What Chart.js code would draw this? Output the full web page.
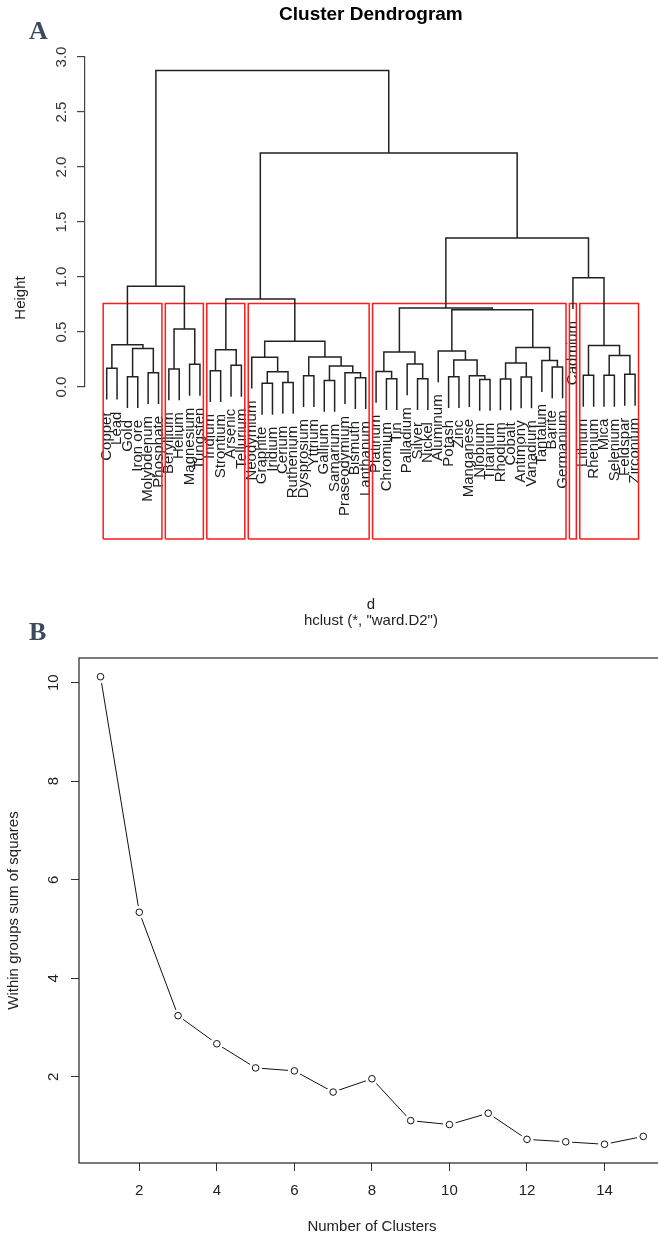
<!DOCTYPE html>
<html>
<head>
<meta charset="utf-8">
<title>Cluster Dendrogram</title>
<script src="https://cdn.jsdelivr.net/npm/chart.js@4.4.1/dist/chart.umd.min.js"></script>
<style>
  html, body { margin: 0; padding: 0; background: #fff; width: 658px; height: 1237px; overflow: hidden; }
  canvas { position: absolute; left: 0; }
  #dendro { top: 0; }
  #elbow { top: 590px; }
  .tag { position: absolute; left: 29px; font: bold 26px/1 "Liberation Serif", "Times New Roman", serif; color: #3d4a5e; }
</style>
</head>
<body>
<canvas id="dendro" width="658" height="640"></canvas>
<canvas id="elbow" width="672" height="647"></canvas>
<div class="tag" style="top:18px">A</div>
<div class="tag" style="top:619px">B</div>
<script>
// leaves in dendrogram order
var leaves = ['Copper', 'Lead', 'Gold', 'Iron ore', 'Molybdenum', 'Phosphate',
    'Beryllium', 'Helium', 'Magnesium', 'Tungsten', 'Indium', 'Strontium', 'Arsenic', 'Tellurium',
    'Neodymium', 'Graphite', 'Iridium', 'Cerium', 'Ruthenium', 'Dysprosium', 'Yttrium', 'Gallium',
    'Samarium', 'Praseodymium', 'Bismuth', 'Lanthanum', 'Platinum', 'Chromium', 'Tin', 'Palladium',
    'Silver', 'Nickel', 'Aluminum', 'Potash', 'Zinc', 'Manganese', 'Niobium', 'Titanium', 'Rhodium',
    'Cobalt', 'Antimony', 'Vanadium', 'Tantalum', 'Barite', 'Germanium', 'Cadmium', 'Lithium',
    'Rhenium', 'Mica', 'Selenium', 'Feldspar', 'Zirconium'];

// hclust merge table: negative = leaf position, positive = earlier merge (1-based)
var mergeLeft = [-1, -3, -5, 2, 1, -7, -9, 6, 5, -11, -13, 10, -16, -18, 13, -15, -20, -22, -25, -24,
    18, 17, 16, 12, -28, -27, -31, -30, 26, -34, -37, -36, 30, -33, -39, -41, 35, -44, -43, 37, 34, 29,
    -47, -49, -51, 44, 43, -46, 42, 24, 9];
var mergeRight = [-2, -4, -6, 3, 4, -8, -10, 7, 8, -12, -14, 11, -17, -19, 14, 15, -21, -23, -26, 19,
    20, 21, 22, 23, -29, 25, -32, 27, 28, -35, -38, 31, 32, 33, -40, -42, 36, -45, 38, 39, 40, 41,
    -48, -50, -52, 45, 46, 47, 48, 49, 50];
var mergeHeight = [0.17, 0.094, 0.13, 0.35, 0.385, 0.164, 0.206, 0.527, 0.915, 0.148, 0.197, 0.339,
    0.033, 0.042, 0.139, 0.27, 0.103, 0.06, 0.085, 0.13, 0.19, 0.273, 0.415, 0.80, 0.075, 0.142, 0.075,
    0.209, 0.318, 0.094, 0.069, 0.103, 0.245, 0.327, 0.073, 0.091, 0.218, 0.182, 0.24, 0.36, 0.702,
    0.718, 0.106, 0.106, 0.115, 0.287, 0.378, 0.994, 1.355, 2.127, 2.878];
var heightTicks = [0, 3];
var kGroups = 7;
var rectBottom = -1.382;   // bottom of the plot region (par("usr")[3])

// elbow plot
var clusterCounts = [1, 2, 3, 4, 5, 6, 7, 8, 9, 10, 11, 12, 13, 14, 15];
var withinSS = [10.12, 5.34, 3.24, 2.67, 2.18, 2.12, 1.69, 1.96, 1.11, 1.03, 1.26, 0.73, 0.68, 0.63, 0.79];

var FONT = '"Liberation Sans", Arial, sans-serif';

// ---- dendrogram geometry from the merge table ----
var hang = 0.1 * (Math.max.apply(null, mergeHeight) - Math.min.apply(null, mergeHeight));
var nodeX = [];
var leafEnd = [];
var segs = [];
mergeHeight.forEach(function (h, k) {
    var ends = [mergeLeft[k], mergeRight[k]].map(function (c) {
        if (c < 0) {
            leafEnd[-c - 1] = h - hang;
            return { x: -c, y: h - hang };
        }
        return { x: nodeX[c - 1], y: mergeHeight[c - 1] };
    });
    nodeX[k] = (ends[0].x + ends[1].x) / 2;
    segs.push(ends[0], { x: ends[0].x, y: h }, { x: ends[1].x, y: h }, ends[1], { x: ends[1].x, y: null });
});

// rect.hclust(k = 7)
var byHeight = mergeHeight.map(function (h, i) { return i; })
    .sort(function (a, b) { return mergeHeight[b] - mergeHeight[a]; });
var topMerges = byHeight.slice(0, kGroups - 1);
var rectTop = (mergeHeight[byHeight[kGroups - 2]] + mergeHeight[byHeight[kGroups - 1]]) / 2;
function leafRange(c) {
    if (c < 0) return [-c, -c];
    var a = leafRange(mergeLeft[c - 1]), b = leafRange(mergeRight[c - 1]);
    return [Math.min(a[0], b[0]), Math.max(a[1], b[1])];
}
var rects = [];
topMerges.forEach(function (k) {
    [mergeLeft[k], mergeRight[k]].forEach(function (c) {
        if (c < 0 || topMerges.indexOf(c - 1) < 0) {
            var r = leafRange(c), x0 = r[0] - 0.34, x1 = r[1] + 0.33;
            rects.push({ x: x0, y: rectBottom }, { x: x0, y: rectTop }, { x: x1, y: rectTop },
                { x: x1, y: rectBottom }, { x: x0, y: rectBottom }, { x: x0, y: null });
        }
    });
});

var dendroText = {
    id: 'dendroText',
    beforeDatasetsDraw: function (chart) {
        var ctx = chart.ctx, x = chart.scales.x, y = chart.scales.y;
        var cx = x.getPixelForValue((leaves.length + 1) / 2);
        ctx.save();
        ctx.fillStyle = '#1e1e1e';
        ctx.font = '15px ' + FONT;
        ctx.textAlign = 'right';
        ctx.textBaseline = 'middle';
        leaves.forEach(function (name, i) {
            ctx.save();
            ctx.translate(x.getPixelForValue(i + 1), y.getPixelForValue(leafEnd[i]) + 12);
            ctx.rotate(-Math.PI / 2);
            ctx.fillText(name, 0, 0);
            ctx.restore();
        });
        ctx.textAlign = 'center';
        ctx.fillText('d', cx, 605);
        ctx.fillText('hclust (*, "ward.D2")', cx, 621);
        ctx.save();
        ctx.translate(21, y.getPixelForValue((heightTicks[1] + rectBottom) / 2));
        ctx.rotate(-Math.PI / 2);
        ctx.fillText('Height', 0, 0);
        ctx.restore();
        ctx.font = 'bold 19px ' + FONT;
        ctx.fillStyle = '#000';
        ctx.fillText('Cluster Dendrogram', cx, 15);
        ctx.restore();
    }
};

new Chart(document.getElementById('dendro').getContext('2d'), {
    type: 'scatter',
    data: {
        datasets: [{
            data: segs,
            showLine: true,
            spanGaps: false,
            borderColor: '#222',
            borderWidth: 1.5,
            pointRadius: 0,
            clip: false
        }, {
            data: rects,
            showLine: true,
            spanGaps: false,
            borderColor: '#ff1a1a',
            borderWidth: 1.5,
            pointRadius: 0,
            clip: false
        }]
    },
    options: {
        responsive: false,
        animation: false,
        devicePixelRatio: 1,
        layout: { padding: { top: 57, left: 0, right: 8, bottom: 253 } },
        plugins: { legend: { display: false }, tooltip: { enabled: false } },
        scales: {
            x: { type: 'linear', display: false, min: -1.094, max: 53.438 },
            y: {
                type: 'linear',
                min: heightTicks[0],
                max: heightTicks[1],
                afterFit: function (s) { s.width = 85; },
                ticks: {
                    stepSize: 0.5,
                    minRotation: 90,
                    maxRotation: 90,
                    crossAlign: 'center',
                    padding: 5,
                    color: '#333',
                    font: { size: 15, family: FONT },
                    callback: function (v) { return v.toFixed(1); }
                },
                grid: { drawOnChartArea: false, drawTicks: true, tickLength: 8, tickColor: '#444', lineWidth: 1.2 },
                border: { display: true, color: '#444', width: 1.2 }
            }
        }
    },
    plugins: [dendroText]
});

// ---- elbow plot ----
var points = clusterCounts.map(function (k, i) { return { x: k, y: withinSS[i] }; });

var boxPlugin = {
    id: 'box',
    afterDraw: function (chart) {
        var a = chart.chartArea, ctx = chart.ctx;
        ctx.save();
        ctx.strokeStyle = '#222';
        ctx.lineWidth = 1.2;
        ctx.strokeRect(a.left, a.top, a.right - a.left, a.bottom - a.top);
        ctx.restore();
    }
};

var tickFont = { size: 15, family: FONT };
new Chart(document.getElementById('elbow').getContext('2d'), {
    type: 'scatter',
    data: {
        datasets: [{
            data: points,
            showLine: true,
            borderColor: '#111',
            borderWidth: 1,
            pointRadius: 0,
            order: 3
        }, {
            data: points,
            pointRadius: 6.5,
            pointBackgroundColor: '#fff',
            pointBorderWidth: 0,
            borderColor: '#fff',
            order: 2
        }, {
            data: points,
            pointRadius: 3.3,
            pointBackgroundColor: '#fff',
            pointBorderColor: '#111',
            pointBorderWidth: 1,
            order: 1
        }]
    },
    options: {
        responsive: false,
        animation: false,
        devicePixelRatio: 1,
        layout: { padding: { top: 68, left: 0, right: 7, bottom: 0 } },
        plugins: { legend: { display: false }, tooltip: { enabled: false } },
        scales: {
            x: {
                type: 'linear',
                min: 0.445,
                max: 15.56,
                afterFit: function (s) { s.height = 74; },
                ticks: { stepSize: 2, includeBounds: false, autoSkip: false, padding: 11, color: '#222', font: tickFont },
                grid: { drawOnChartArea: false, drawTicks: true, tickLength: 8, tickColor: '#333' },
                border: { display: false },
                title: { display: true, text: 'Number of Clusters', color: '#222', font: tickFont, padding: { top: 0, bottom: 1 } }
            },
            y: {
                type: 'linear',
                min: 0.25,
                max: 10.5,
                afterFit: function (s) { s.width = 79; },
                ticks: {
                    stepSize: 2, includeBounds: false, minRotation: 90, maxRotation: 90,
                    crossAlign: 'center', padding: 9, color: '#222', font: tickFont
                },
                grid: { drawOnChartArea: false, drawTicks: true, tickLength: 8, tickColor: '#333' },
                border: { display: false },
                title: { display: true, text: 'Within groups sum of squares', color: '#222', font: tickFont, padding: { top: 5, bottom: 0 } }
            }
        }
    },
    plugins: [boxPlugin]
});
</script>
</body>
</html>
